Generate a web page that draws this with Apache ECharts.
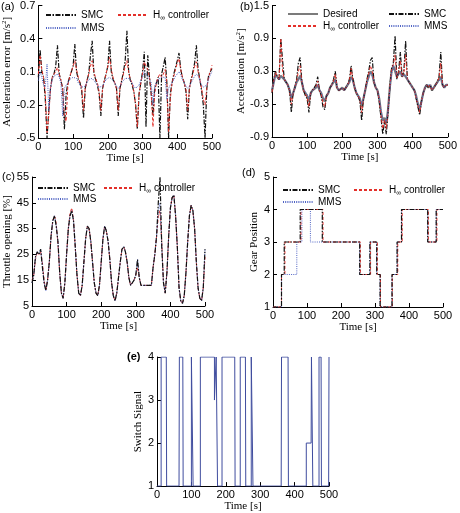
<!DOCTYPE html>
<html>
<head>
<meta charset="utf-8">
<script src="https://cdn.jsdelivr.net/npm/echarts@6/dist/echarts.min.js"></script>
<style>
  html, body { margin: 0; padding: 0; background: #fff; }
  #chart { width: 460px; height: 513px; }
</style>
</head>
<body>
<div id="chart"></div>
<script>
// time grid (s) shared by panels a, b, c
var T5 = [0,5,10,15,20,25,30,35,40,45,50,55,60,65,70,75,80,85,90,95,
  100,105,110,115,120,125,130,135,140,145,150,155,160,165,170,175,180,185,190,195,
  200,205,210,215,220,225,230,235,240,245,250,255,260,265,270,275,280,285,290,295,
  300,305,310,315,320,325,330,335,340,345,350,355,360,365,370,375,380,385,390,395,
  400,405,410,415,420,425,430,435,440,445,450,455,460,465,470,475,480,485,490,495,500];

// (a) acceleration error
var errSMC = [0.05,0.30,0.10,0.05,-0.15,-0.50,-0.25,-0.05,0.05,0.08,
  0.15,0.34,0.08,0.02,-0.05,-0.42,-0.10,0.00,0.05,0.10,
  0.15,0.35,0.10,0.03,0.00,-0.08,-0.32,-0.05,0.02,0.08,
  0.25,0.38,0.08,0.03,-0.02,-0.10,-0.30,-0.05,0.02,0.08,
  0.15,0.38,0.10,0.03,0.00,-0.05,-0.30,-0.05,0.02,0.10,
  0.20,0.47,0.10,0.02,-0.02,-0.08,-0.20,-0.42,-0.10,0.00,
  0.10,0.28,-0.40,0.25,0.05,-0.10,-0.30,-0.05,0.00,0.05,
  -0.50,0.08,0.15,0.23,0.00,-0.50,-0.10,0.00,0.08,0.14,
  0.20,0.27,0.12,0.05,0.00,-0.08,-0.33,-0.05,0.03,0.10,
  0.18,0.34,0.12,0.03,-0.07,-0.20,-0.50,-0.05,0.06,0.10,0.13];
var errHinf = [0.08,0.25,0.12,0.05,-0.10,-0.45,-0.30,-0.05,0.05,0.08,
  0.10,0.14,0.08,0.02,-0.05,-0.30,-0.35,-0.02,0.05,0.10,
  0.15,0.20,0.12,0.05,0.00,-0.05,-0.25,-0.05,0.02,0.08,
  0.15,0.20,0.10,0.04,0.00,-0.08,-0.25,-0.05,0.02,0.08,
  0.15,0.23,0.12,0.05,0.00,-0.05,-0.25,-0.05,0.02,0.08,
  0.15,0.20,0.10,0.03,0.00,-0.08,-0.20,-0.40,-0.10,0.00,
  0.08,0.19,0.15,0.12,0.05,-0.10,-0.40,-0.10,0.00,0.05,
  0.08,0.05,0.08,0.12,0.00,-0.45,-0.15,0.00,0.06,0.12,
  0.18,0.22,0.12,0.05,0.00,-0.06,-0.25,-0.05,0.03,0.08,
  0.15,0.19,0.10,0.03,-0.05,-0.15,-0.20,-0.05,0.05,0.10,0.16];
var errMMS = [0.02,0.10,0.05,-0.02,-0.04,0.17,-0.25,-0.05,0.03,0.06,
  0.07,0.08,0.05,0.00,-0.30,-0.05,-0.02,0.00,0.03,0.04,
  0.05,0.06,0.04,0.00,-0.02,-0.04,-0.05,-0.03,0.00,0.03,
  0.03,0.04,0.03,0.00,-0.02,-0.04,-0.05,-0.03,0.00,0.03,
  0.04,0.05,0.04,0.02,0.00,-0.03,-0.05,-0.03,0.00,0.02,
  0.04,0.05,0.04,0.02,0.00,-0.03,-0.05,-0.05,-0.02,0.02,
  0.05,0.10,0.08,0.06,0.03,0.00,-0.20,-0.03,0.00,0.03,
  0.04,0.05,0.06,0.05,-0.15,-0.05,-0.02,0.00,0.03,0.06,
  0.08,0.10,0.07,0.03,0.00,-0.03,-0.05,-0.03,0.00,0.03,
  0.06,0.08,0.06,0.02,-0.02,-0.04,-0.05,-0.02,0.03,0.07,0.10];

// (b) acceleration
var accDesired = [-0.05,0.10,0.25,0.20,0.15,0.22,0.20,0.15,0.10,0.05,
  -0.05,-0.20,-0.10,0.00,0.10,0.15,0.22,0.10,-0.05,-0.10,
  -0.15,-0.25,-0.10,-0.05,-0.05,0.00,0.05,-0.05,-0.10,-0.20,
  -0.25,-0.15,-0.10,0.00,0.05,0.10,0.15,0.00,-0.05,-0.05,
  0.00,-0.05,0.00,0.05,0.10,0.20,0.15,0.00,-0.10,-0.15,
  -0.20,-0.35,-0.20,-0.05,0.10,0.20,0.30,0.25,0.10,0.00,
  -0.05,-0.20,-0.45,-0.60,-0.55,-0.65,-0.40,0.00,0.30,0.40,
  0.30,0.20,0.25,0.30,0.20,0.25,0.20,0.15,0.10,0.05,
  0.00,-0.05,-0.15,-0.30,-0.40,-0.25,-0.10,0.00,0.05,0.00,
  0.05,-0.05,0.00,0.05,0.10,0.15,0.20,0.05,0.00,0.05,0.05];
var accSMC = [-0.10,0.15,0.30,0.20,0.15,0.90,0.50,0.15,0.10,0.05,
  -0.05,-0.45,-0.10,0.00,0.15,0.45,0.55,0.10,-0.05,-0.15,
  -0.20,-0.45,-0.10,-0.05,-0.05,0.05,0.20,-0.05,-0.15,-0.35,
  -0.40,-0.15,-0.10,0.00,0.05,0.15,0.30,0.00,-0.05,-0.05,
  0.00,-0.05,0.00,0.05,0.15,0.40,0.15,0.00,-0.10,-0.15,
  -0.25,-0.60,-0.20,-0.05,0.15,0.30,0.50,0.55,0.10,0.00,
  -0.05,-0.25,-0.55,-0.85,-0.60,-0.85,-0.45,0.00,0.35,0.45,
  0.95,0.15,0.30,0.65,0.20,0.30,0.85,0.15,0.10,0.05,
  0.00,-0.05,-0.20,-0.35,-0.50,-0.25,-0.10,0.00,0.05,0.00,
  0.05,-0.05,0.00,0.05,0.10,0.20,0.65,0.05,0.00,0.05,0.05];
var accHinf = [-0.08,0.12,0.28,0.20,0.15,0.90,0.30,0.15,0.10,0.05,
  -0.05,-0.30,-0.10,0.00,0.12,0.30,0.40,0.10,-0.05,-0.12,
  -0.18,-0.35,-0.10,-0.05,-0.05,0.02,0.12,-0.05,-0.12,-0.28,
  -0.35,-0.15,-0.10,0.00,0.05,0.12,0.25,0.00,-0.05,-0.05,
  0.00,-0.05,0.00,0.05,0.12,0.35,0.15,0.00,-0.10,-0.15,
  -0.22,-0.45,-0.20,-0.05,0.12,0.25,0.40,0.30,0.10,0.00,
  -0.05,-0.22,-0.50,-0.75,-0.58,-0.75,-0.42,0.00,0.32,0.42,
  0.60,0.18,0.28,0.50,0.20,0.28,0.60,0.15,0.10,0.05,
  0.00,-0.05,-0.18,-0.32,-0.45,-0.25,-0.10,0.00,0.05,0.00,
  0.05,-0.05,0.00,0.05,0.10,0.18,0.45,0.05,0.00,0.05,0.05];
var accMMS = [-0.02,0.08,0.22,0.20,0.15,0.20,0.20,0.15,0.10,0.05,
  -0.03,-0.18,-0.10,0.00,0.10,0.15,0.20,0.12,-0.02,-0.08,
  -0.12,-0.20,-0.10,-0.05,-0.05,0.00,0.05,-0.03,-0.08,-0.18,
  -0.22,-0.15,-0.10,0.00,0.05,0.10,0.14,0.02,-0.05,-0.05,
  0.00,-0.05,0.00,0.05,0.10,0.18,0.15,0.02,-0.08,-0.15,
  -0.20,-0.30,-0.20,-0.05,0.08,0.18,0.28,0.25,0.12,0.00,
  -0.05,-0.18,-0.42,-0.58,-0.55,-0.62,-0.42,-0.05,0.25,0.40,
  0.32,0.22,0.25,0.28,0.22,0.25,0.22,0.15,0.10,0.05,
  0.00,-0.05,-0.15,-0.28,-0.38,-0.28,-0.10,0.00,0.05,0.02,
  0.05,-0.03,0.00,0.05,0.08,0.12,0.18,0.06,0.00,0.05,0.08];

// (c) throttle opening [%]
var thrSMC = [14,17,24,26,25,27,20,14,11,15,
  22,32,38,40,36,30,18,10,8,14,
  25,35,40,42,38,28,17,10,9,13,
  22,31,36,35,30,22,14,10,9,13,
  22,31,36,34,30,23,14,9,7,10,
  16,22,27,28,26,22,16,13,13,15,
  17,23,16,13,13,13,13,13,13,13,
  20,25,32,45,55,28,14,10,18,32,
  43,47,48,40,28,12,7,6,9,18,
  30,40,44,42,35,22,12,8,7,12,27];
var thrHinf = [15,17,23,26,25,26,22,15,11,15,
  22,32,38,40,37,29,18,10,8,14,
  25,35,41,43,38,28,17,10,9,13,
  22,31,36,35,30,22,14,10,9,13,
  22,31,36,34,30,23,14,9,7,10,
  16,22,27,28,26,22,16,13,13,15,
  17,20,16,13,13,13,13,13,13,13,
  20,25,32,40,42,30,14,10,18,32,
  43,47,48,40,28,12,7,6,9,18,
  30,40,44,42,35,22,12,8,7,12,24];
var thrMMS = [14,17,24,26,25,27,21,14,11,15,
  22,32,38,40,36,30,18,10,8,14,
  25,35,40,42,38,28,17,10,9,13,
  22,31,36,35,30,22,14,10,9,13,
  22,31,36,34,30,23,14,9,7,10,
  16,22,27,28,26,22,16,13,13,15,
  17,23,16,13,13,13,13,13,13,13,
  20,25,32,42,45,28,14,10,18,32,
  43,47,48,40,28,12,7,6,9,18,
  30,40,44,42,35,22,12,8,7,12,27];

// (d) gear position: change times and gears
var gearTimeSMC  = [0,25,33,80,145,255,285,305,315,350,365,378,455,480,500];
var gearTimeHinf = [0,25,35,82,147,257,287,307,316,351,367,380,457,482,500];
var gearTimeMMS  = [0,25,70,85,110,255,285,305,315,350,365,378,455,480,500];
var gearSMC  = [1,2,3,4,3,2,3,2,1,2,3,4,3,4,4];
var gearHinf = [1,2,3,4,3,2,3,2,1,2,3,4,3,4,4];
var gearMMS  = [1,2,3,4,3,2,3,2,1,2,3,4,3,4,4];

// (e) switch signal
var switchTime = [0,12,12,27,28,64,65,75,76,100,100,104,105,126,126,167,167,172,172,175,176,
  189,189,226,227,242,242,257,258,274,274,278,279,361,362,381,382,434,434,448,449,452,453,
  471,471,477,478,499,500];
var switchVal = [1,1,4,4,1,1,4,4,1,1,4,4,1,1,4,4,3,3,4,4,1,
  1,4,4,1,1,4,4,1,1,4,4,1,1,4,4,1,1,2,2,4,4,1,
  1,4,4,1,1,4];

var HINF = 'H\u221e controller';

function zip(ts, vs) {
  return ts.map(function (t, i) { return [t, vs[i]]; });
}

var SANS = 'Liberation Sans';
var SERIF = 'Liberation Serif';

var sty = {
  smc:  { color: '#111', width: 1.2, type: [5, 1.5, 1.5, 1.5] },
  hinf: { color: '#e3302a', width: 1, type: [3, 2] },
  mms:  { color: '#5064c4', width: 1, type: [1, 1.2] },
  des:  { color: '#7b7b7b', width: 2.2, type: 'solid' }
};

function line(name, data, k, st, step) {
  return {
    name: name, type: 'line', data: data, xAxisIndex: k, yAxisIndex: k,
    symbol: 'none', step: step || false,
    lineStyle: { color: st.color, width: st.width, type: st.type },
    itemStyle: { color: st.color },
    emphasis: { disabled: true }
  };
}

var grids = [
  { left: 33, top: 5, width: 179, height: 133 },
  { left: 272, top: 4, width: 179, height: 133 },
  { left: 32, top: 177, width: 173, height: 129 },
  { left: 273, top: 177, width: 170, height: 130 },
  { left: 157, top: 357, width: 172, height: 130 }
];

var axisLine = { onZero: false, lineStyle: { color: '#000', width: 1 } };
var axisTick = { inside: true, length: 4, lineStyle: { color: '#000' } };

function xAx(k, gap) {
  return {
    type: 'value', gridIndex: k, min: 0, max: 500, interval: 100,
    name: 'Time [s]', nameLocation: 'middle', nameGap: gap,
    nameTextStyle: { fontFamily: SERIF, fontSize: 11, color: '#000' },
    axisLine: axisLine, axisTick: axisTick, splitLine: { show: false },
    axisLabel: { fontFamily: SANS, fontSize: 11, color: '#000', margin: 3 }
  };
}

function yAx(k, min, max, step, name, gap, dec) {
  return {
    type: 'value', gridIndex: k, min: min, max: max, interval: step,
    name: name, nameLocation: 'middle', nameGap: gap, nameRotate: 90,
    nameTextStyle: {
      fontFamily: SERIF, fontSize: 11, color: '#000',
      rich: { sup: { fontFamily: SERIF, fontSize: 7, verticalAlign: 'top', padding: [0, 0, 5, 0] } }
    },
    axisLine: axisLine, axisTick: axisTick, splitLine: { show: false },
    axisLabel: {
      fontFamily: SANS, fontSize: 11, color: '#000', margin: 3,
      formatter: function (v) { return v.toFixed(dec); }
    }
  };
}

function leg(name, left, top) {
  return {
    data: [name], left: left, top: top, orient: 'horizontal',
    itemWidth: 30, itemHeight: 10, itemGap: 5, padding: 0,
    selectedMode: false,
    itemStyle: { opacity: 0 },
    textStyle: {
      fontFamily: SANS, fontSize: 10, color: '#000',
      rich: { sub: { fontFamily: SANS, fontSize: 7, padding: [7, 0, 0, 0] } }
    },
    formatter: function (n) { return n === HINF ? 'H{sub|\u221e} controller' : n; }
  };
}

var chart = echarts.init(document.getElementById('chart'));
var option = {
  backgroundColor: '#fff',
  animation: false,
  grid: grids,
  xAxis: [xAx(0, 12), xAx(1, 12), xAx(2, 14), xAx(3, 14), xAx(4, 12)],
  yAxis: [
    yAx(0, -0.5, 0.7, 0.3, 'Acceleration error [m/s{sup|2}]', 17, 1),
    yAx(1, -0.9, 1.5, 0.6, 'Acceleration [m/s{sup|2}]', 18, 1),
    yAx(2, 5, 55, 10, 'Throttle opening [%]', 16, 0),
    yAx(3, 1, 5, 1, 'Gear Position', 12, 0),
    yAx(4, 1, 4, 1, 'Switch Signal', 12, 0)
  ],
  legend: [
    leg('SMC', 45, 10), leg(HINF, 117, 10), leg('MMS', 45, 23),
    leg('Desired', 287, 9), leg('SMC', 388, 9), leg(HINF, 287, 21), leg('MMS', 388, 21),
    leg('SMC', 37, 183), leg(HINF, 103, 183), leg('MMS', 37, 194),
    leg('SMC', 282, 185), leg(HINF, 353, 185), leg('MMS', 282, 197)
  ],
  series: [
    line('SMC', zip(T5, errSMC), 0, sty.smc),
    line(HINF, zip(T5, errHinf), 0, sty.hinf),
    line('MMS', zip(T5, errMMS), 0, sty.mms),

    line('Desired', zip(T5, accDesired), 1, sty.des),
    line('SMC', zip(T5, accSMC), 1, sty.smc),
    line(HINF, zip(T5, accHinf), 1, sty.hinf),
    line('MMS', zip(T5, accMMS), 1, sty.mms),

    line(HINF, zip(T5, thrHinf), 2, sty.hinf),
    line('MMS', zip(T5, thrMMS), 2, sty.mms),
    line('SMC', zip(T5, thrSMC), 2, sty.smc),

    line('MMS', zip(gearTimeMMS, gearMMS), 3, sty.mms, 'end'),
    line(HINF, zip(gearTimeHinf, gearHinf), 3, sty.hinf, 'end'),
    line('SMC', zip(gearTimeSMC, gearSMC), 3, sty.smc, 'end'),

    {
      name: 'Switch', type: 'line', data: zip(switchTime, switchVal),
      xAxisIndex: 4, yAxisIndex: 4, symbol: 'none',
      lineStyle: { color: '#3f4c9e', width: 1 }, emphasis: { disabled: true }
    }
  ],
  graphic: [
    { type: 'text', left: 1, top: 1, style: { text: '(a)', font: '11px Liberation Sans', fill: '#000' } },
    { type: 'text', left: 240, top: 1, style: { text: '(b)', font: '11px Liberation Sans', fill: '#000' } },
    { type: 'text', left: 2, top: 171, style: { text: '(c)', font: '11px Liberation Sans', fill: '#000' } },
    { type: 'text', left: 242, top: 167, style: { text: '(d)', font: '11px Liberation Sans', fill: '#000' } },
    { type: 'text', left: 127, top: 351, style: { text: '(e)', font: 'bold 11px Liberation Sans', fill: '#000' } }
  ]
};
chart.setOption(option);
</script>
</body>
</html>
